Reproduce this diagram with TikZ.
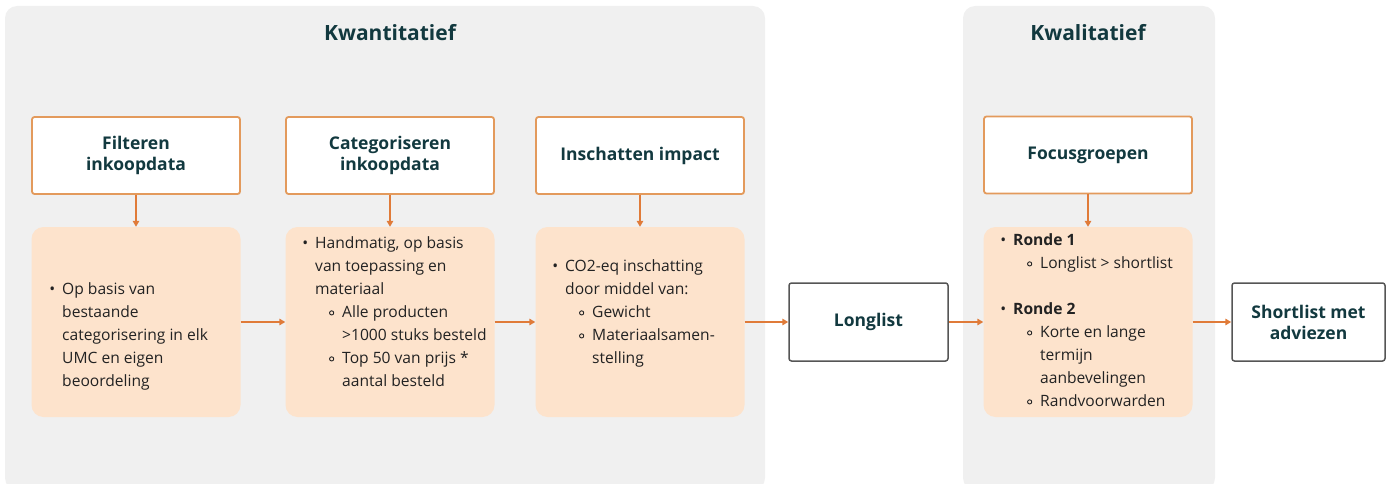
\documentclass[tikz,border=0pt]{standalone}
\usepackage{fontspec}
\setmainfont{Open Sans}
\usetikzlibrary{arrows.meta}
\definecolor{panelgrey}{HTML}{F0F0F0}
\definecolor{hdrborder}{HTML}{E39A5C}
\definecolor{peach}{HTML}{FDE3CC}
\definecolor{arrowc}{HTML}{E07B39}
\definecolor{titlec}{HTML}{12393F}
\definecolor{outborder}{HTML}{555555}
\definecolor{bodyc}{HTML}{222222}
\newcommand{\bodyfont}{\fontsize{15.6}{23}\selectfont}
\newcommand{\bl}{\llap{\textbullet\hspace{7pt}}}
\newcommand{\ringmark}{\tikz[baseline={(0,-4.3pt)}]\draw[line width=0.9pt, bodyc] (0,0) circle (2.1pt);}
\newcommand{\sbl}{\hspace*{27pt}\llap{\ringmark\hspace{8pt}}}
\newcommand{\sind}{\hspace*{27pt}}
\begin{document}
\begin{tikzpicture}[x=1pt,y=-1pt,
  hdr/.style={draw=hdrborder, line width=1.8pt, fill=white, rounded corners=2.5pt, minimum width=208pt, minimum height=77pt, inner sep=0pt, align=center, text=titlec, font=\fontsize{17.5}{21}\selectfont\bfseries},
  content/.style={fill=peach, draw=none, rounded corners=12pt, minimum width=209pt, minimum height=190pt, inner sep=0pt},
  outbox/.style={draw=outborder, line width=1.5pt, fill=white, rounded corners=2.5pt, minimum height=78pt, inner sep=0pt, align=center, text=titlec, font=\fontsize{17.5}{21}\selectfont\bfseries},
  bodytext/.style={anchor=north west, align=left, inner sep=0pt, text=bodyc, font=\bodyfont},
  ptitle/.style={text=titlec, font=\fontsize{21}{25}\selectfont\bfseries},
  flow/.style={draw=arrowc, line width=1.8pt, -{Triangle[length=6pt,width=6.5pt]}}
]
\useasboundingbox (0,0) rectangle (1390,484);
% panels
\fill[panelgrey, rounded corners=12pt] (5,6) rectangle (765,490);
\fill[panelgrey, rounded corners=12pt] (963,6) rectangle (1215,490);
\node[ptitle] (tq) at (390,33) {Kwantitatief};
\node[ptitle] (tl) at (1088,33) {Kwalitatief};
% header boxes
\node[hdr] (h1) at (136,155.5) {Filteren\\inkoopdata};
\node[hdr] (h2) at (390,155.5) {Categoriseren\\inkoopdata};
\node[hdr] (h3) at (640,155.5) {Inschatten impact};
\node[hdr] (h4) at (1088,155) {Focusgroepen};
% content boxes
\node[content] (c1) at (136,322) {};
\node[content] (c2) at (390,322) {};
\node[content] (c3) at (640,322) {};
\node[content] (c4) at (1088,322) {};
% content texts
\node[bodytext] (t1) at (62,294-16.1) {\strut\bl Op basis van\\\strut bestaande\\\strut categorisering in elk\\\strut UMC en eigen\\\strut beoordeling};
\node[bodytext] (t2) at (315,248-16.1) {\strut\bl Handmatig, op basis\\\strut van toepassing en\\\strut materiaal\\\strut\sbl Alle producten\\\strut\sind >1000 stuks besteld\\\strut\sbl Top 50 van prijs *\\\strut\sind aantal besteld};
\node[bodytext] (t3) at (565,271-16.1) {\strut\bl CO2-eq inschatting\\\strut door middel van:\\\strut\sbl Gewicht\\\strut\sbl Materiaalsamen-\\\strut\sind stelling};
\node[bodytext] (t4) at (1013,245-16.1) {\strut\bl\textbf{Ronde 1}\\\strut\sbl Longlist > shortlist\\\strut\\\strut\bl\textbf{Ronde 2}\\\strut\sbl Korte en lange\\\strut\sind termijn\\\strut\sind aanbevelingen\\\strut\sbl Randvoorwarden};
% output boxes
\node[outbox, minimum width=159pt] (lo) at (868.5,322) {Longlist};
\node[outbox, minimum width=153pt] (so) at (1308.5,322) {Shortlist met\\adviezen};
% arrows
\draw[flow] (h1.south) -- (c1.north);
\draw[flow] (h2.south) -- (c2.north);
\draw[flow] (h3.south) -- (c3.north);
\draw[flow] (h4.south) -- (c4.north);
\draw[flow] (c1.east) -- (c2.west);
\draw[flow] (c2.east) -- (c3.west);
\draw[flow] (c3.east) -- (lo.west);
\draw[flow] (lo.east) -- (c4.west);
\draw[flow] (c4.east) -- (so.west);
\end{tikzpicture}
\end{document}
